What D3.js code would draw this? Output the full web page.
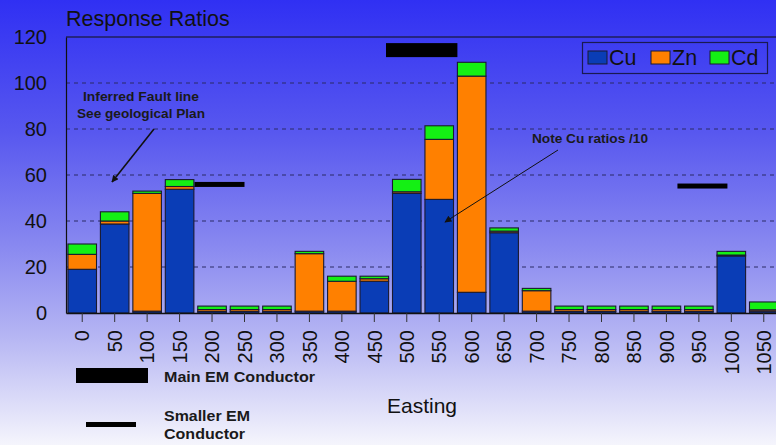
<!DOCTYPE html>
<html><head><meta charset="utf-8">
<script src="https://cdn.jsdelivr.net/npm/d3@7"></script>
<style>html,body{margin:0;padding:0;overflow:hidden;background:#fff}</style>
</head><body>
<svg id="c" width="776" height="445"></svg>
<script>
const categories = ["0","50","100","150","200","250","300","350","400","450","500","550","600","650","700","750","800","850","900","950","1000","1050"];
const cu = [19,38.7,0.8,53.8,0.7,0.7,0.7,0.8,0.8,13.8,52,49.4,9,34.9,0.8,0.7,0.7,0.7,0.7,0.7,24.8,0.8];
const zn = [6.5,1.3,51.2,1.2,0.8,0.8,0.8,25,13,1.1,0.7,26.1,94,0.7,8.9,0.8,0.8,0.8,0.8,0.8,0.4,0.6];
const cd = [4.5,4,1,3,1.5,1.5,1.5,1,2.2,1.1,5.4,5.9,6,1.4,1,1.5,1.5,1.5,1.5,1.5,1.6,3.4];
const seriesNames = ["Cu","Zn","Cd"];
const yTicks = [0,20,40,60,80,100,120];
// EM conductors: [start easting, end easting, level]
const mainConductors = [[468,578,114.3]];
const smallConductors = [[173,250,55.9],[917,994,55.2]];

const colors = {Cu:"#0a3db6", Zn:"#ff8000", Cd:"#14f014"};
const svg = d3.select("#c");
const W = 776, H = 445;
const m = {l:66, t:36, b:132};
const plotR = 780;

const defs = svg.append("defs");
const g = defs.append("linearGradient").attr("id","bg").attr("x1",0).attr("y1",0).attr("x2",0).attr("y2",1);
[[0,"#3030f3"],[0.3,"#5858ef"],[0.55,"#8888f0"],[0.75,"#b4b4f3"],[1,"#f5f5fc"]].forEach(s=>g.append("stop").attr("offset",s[0]).attr("stop-color",s[1]));
const mk = defs.append("marker").attr("id","ah").attr("viewBox","0 0 10 10").attr("refX",9).attr("refY",5)
  .attr("markerWidth",7).attr("markerHeight",7).attr("orient","auto-start-reverse").attr("markerUnits","userSpaceOnUse");
mk.append("path").attr("d","M0,0L10,5L0,10z").attr("fill","#111");
svg.append("rect").attr("width",W).attr("height",H).attr("fill","url(#bg)");

const x = d3.scaleBand().domain(categories).range([m.l, plotR]).paddingInner(0.12).paddingOuter(0.06);
const y = d3.scaleLinear().domain([0,120]).range([313, 37]);
const xE = d3.scaleLinear().domain([0,1050]).range([x("0")+x.bandwidth()/2, x("1050")+x.bandwidth()/2]);

// grid
svg.append("g").selectAll("line").data(yTicks.filter(v=>v>0&&v<120)).join("line")
  .attr("x1",m.l).attr("x2",W).attr("y1",d=>y(d)).attr("y2",d=>y(d))
  .attr("stroke","#2a2a66").attr("stroke-width",1).attr("stroke-dasharray","4,4");

// frame top
svg.append("line").attr("x1",m.l).attr("x2",W).attr("y1",y(120)).attr("y2",y(120)).attr("stroke","#111").attr("stroke-width",1.2);

// stacked bars
const rows = categories.map((c,i)=>({cat:c, Cu:cu[i], Zn:zn[i], Cd:cd[i]}));
const stack = d3.stack().keys(seriesNames)(rows);
svg.append("g").selectAll("g").data(stack).join("g").attr("fill",d=>colors[d.key])
  .selectAll("rect").data(d=>d).join("rect")
  .attr("x",d=>x(d.data.cat)).attr("width",x.bandwidth())
  .attr("y",d=>y(d[1])).attr("height",d=>y(d[0])-y(d[1]))
  .attr("stroke","#1a1a30").attr("stroke-width",1.1);

// axes
const ya = svg.append("g").attr("transform",`translate(${m.l},0)`).call(d3.axisLeft(y).tickValues(yTicks).tickSize(0).tickPadding(19));
ya.select(".domain").attr("stroke","#111").attr("stroke-width",1.2);
ya.selectAll("text").attr("font-family","Liberation Sans, Arial, sans-serif").attr("font-size",20).attr("fill","#111");

const xa = svg.append("g").attr("transform",`translate(0,${y(0)})`).call(d3.axisBottom(x).tickSize(9).tickSizeOuter(0));
xa.select(".domain").attr("stroke","#111").attr("stroke-width",1.5);
xa.selectAll(".tick line").attr("stroke","#333");
xa.selectAll("text").attr("font-family","Liberation Sans, Arial, sans-serif").attr("font-size",20).attr("fill","#111")
  .attr("transform","rotate(-90)").attr("text-anchor","end").attr("dy","0.36em").attr("x",-17).attr("y",0);

// title
svg.append("text").attr("x",66).attr("y",26).text("Response Ratios")
  .attr("font-family","Liberation Sans, Arial, sans-serif").attr("font-size",21.5).attr("fill","#111");

// conductors
svg.append("g").selectAll("rect").data(mainConductors).join("rect")
  .attr("x",d=>xE(d[0])).attr("width",d=>xE(d[1])-xE(d[0])).attr("y",d=>y(d[2])-7).attr("height",14).attr("fill","#000");
svg.append("g").selectAll("rect").data(smallConductors).join("rect")
  .attr("x",d=>xE(d[0])).attr("width",d=>xE(d[1])-xE(d[0])).attr("y",d=>y(d[2])-2.5).attr("height",5).attr("fill","#000");

// legend box
const lg = svg.append("g");
lg.append("rect").attr("x",582.5).attr("y",42.5).attr("width",185).attr("height",31).attr("fill","none").attr("stroke","#1a1a50").attr("stroke-width",1.2);
const lx = [588,651,710];
seriesNames.forEach((s,i)=>{
  lg.append("rect").attr("x",lx[i]).attr("y",51).attr("width",19).attr("height",13).attr("fill",colors[s]).attr("stroke","#1a1a30");
  lg.append("text").attr("x",lx[i]+21).attr("y",65).text(s).attr("font-family","Liberation Sans, Arial, sans-serif").attr("font-size",21.5).attr("fill","#111");
});

// annotations
const bf = "Liberation Sans Narrow, Liberation Sans, Arial, sans-serif";
function ann(t,xx,yy,len){svg.append("text").attr("x",xx).attr("y",yy).text(t).attr("font-family",bf).attr("font-weight","bold").attr("font-size",13).attr("fill","#1a1a1a").attr("textLength",len).attr("lengthAdjust","spacingAndGlyphs");}
ann("Inferred Fault line",83,101,116);
ann("See geological Plan",77,118,128);
ann("Note Cu ratios /10",532,143,116);
svg.append("line").attr("x1",154).attr("y1",129).attr("x2",112).attr("y2",182).attr("stroke","#111").attr("stroke-width",1.6).attr("marker-end","url(#ah)");
svg.append("line").attr("x1",558).attr("y1",150).attr("x2",445).attr("y2",222).attr("stroke","#111").attr("stroke-width",1).attr("marker-end","url(#ah)");

// bottom key
svg.append("rect").attr("x",76).attr("y",368).attr("width",72).attr("height",15).attr("fill","#000");
svg.append("rect").attr("x",86).attr("y",422).attr("width",50).attr("height",5).attr("fill","#000");
function kt(t,yy,len){svg.append("text").attr("x",164).attr("y",yy).text(t).attr("font-family",bf).attr("font-weight","bold").attr("font-size",15).attr("fill","#1a1a1a").attr("textLength",len).attr("lengthAdjust","spacingAndGlyphs");}
kt("Main EM Conductor",382,151);
kt("Smaller EM",421,86);
kt("Conductor",439,81);

svg.append("text").attr("x",422).attr("y",413).attr("text-anchor","middle").text("Easting")
  .attr("font-family","Liberation Sans, Arial, sans-serif").attr("font-size",21).attr("fill","#111");
</script>
</body></html>
